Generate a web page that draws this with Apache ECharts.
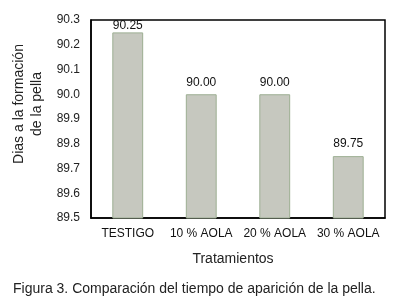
<!DOCTYPE html>
<html>
<head>
<meta charset="utf-8">
<script src="https://cdn.jsdelivr.net/npm/echarts@6/dist/echarts.min.js"></script>
<style>
  html, body { margin: 0; padding: 0; background: #fff; }
  #chart { width: 397px; height: 305px; }
</style>
</head>
<body>
<div id="chart"></div>
<script>
const categories = ["TESTIGO", "10 % AOLA", "20 % AOLA", "30 % AOLA"];
const days = [90.25, 90.0, 90.0, 89.75];

const chart = echarts.init(document.getElementById("chart"));
const font = "Liberation Sans, Arial, sans-serif";

// the tallest label is pushed down against the frame, like in the original
const barData = days.map((v, i) =>
  i === 0 ? { value: v, label: { distance: 1 } } : v
);

chart.setOption({
  animation: false,
  textStyle: { fontFamily: font },
  title: {
    text: "Figura 3. Comparación del tiempo de aparición de la pella.",
    left: 8,
    top: 277,
    textStyle: { fontSize: 14, fontWeight: "normal", color: "#222", fontFamily: font },
  },
  grid: {
    left: 91,
    right: 12,
    top: 20,
    bottom: 87,
    show: true,
    borderColor: "#000",
    borderWidth: 1.5,
  },
  xAxis: {
    type: "category",
    data: categories,
    axisLine: { lineStyle: { color: "#000", width: 1.5 } },
    axisTick: { show: false },
    axisLabel: { color: "#111", fontSize: 12, margin: 10, interval: 0 },
    name: "Tratamientos",
    nameLocation: "middle",
    nameGap: 34,
    nameTextStyle: { color: "#222", fontSize: 14, padding: [0, 10, 0, 0] },
  },
  yAxis: {
    type: "value",
    min: 89.5,
    max: 90.3,
    interval: 0.1,
    splitLine: { show: false },
    axisLine: { show: true, lineStyle: { color: "#000", width: 1.5 } },
    axisTick: { show: false },
    axisLabel: {
      color: "#222",
      fontSize: 12,
      margin: 11,
      formatter: (v) => v.toFixed(1),
    },
    name: "Dias a la formación\nde la pella",
    nameLocation: "middle",
    nameGap: 43,
    nameTextStyle: { color: "#222", fontSize: 14, lineHeight: 18, padding: [0, 0, 0, 30] },
  },
  series: [
    {
      type: "bar",
      data: barData,
      barWidth: "42%",
      itemStyle: { color: "#c6c8bf", borderColor: "#9cae92", borderWidth: 1 },
      label: {
        show: true,
        position: "top",
        color: "#111",
        fontSize: 12,
        distance: 6,
        formatter: (p) => p.value.toFixed(2),
      },
    },
  ],
});
</script>
</body>
</html>
